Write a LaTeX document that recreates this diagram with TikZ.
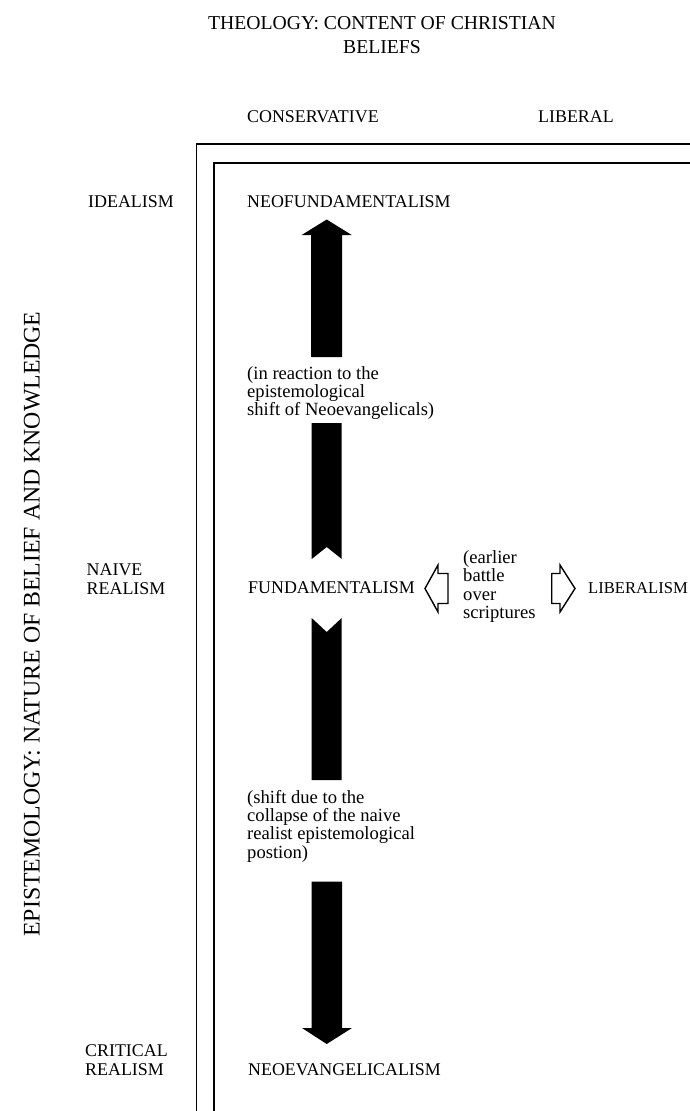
\documentclass[tikz,border=0pt]{standalone}
\usepackage{fontspec}
\setmainfont{Liberation Serif}
\begin{document}
\begin{tikzpicture}[x=1pt,y=-1pt,
  framel/.style={line width=1.5pt, line cap=butt, line join=miter},
  solidarrow/.style={fill=black, draw=none},
  hollowarrow/.style={draw=black, line width=1.4pt, fill=white, line join=miter},
  lab/.style={font=\fontsize{17.9}{18.5}\selectfont, inner sep=0pt, anchor=west, align=left},
  note/.style={font=\fontsize{18.6}{18.3}\selectfont, inner sep=0pt, anchor=west, align=left},
  ttl/.style={font=\fontsize{19.7}{24}\selectfont, inner sep=0pt, align=center},
  axis/.style={font=\fontsize{23.8}{26}\selectfont, inner sep=0pt, rotate=90}]
\useasboundingbox (0,0) rectangle (690,1111);

% titles
\node[ttl] (title) at (382,35) {THEOLOGY: CONTENT OF CHRISTIAN\\BELIEFS};
\node[lab] (cons) at (247,117) {CONSERVATIVE};
\node[lab] (lib) at (538,117) {LIBERAL};
\node[axis] (epi) at (32,624) {EPISTEMOLOGY: NATURE OF BELIEF AND KNOWLEDGE};

% row labels
\node[lab] (ideal) at (88,202) {IDEALISM};
\node[lab] (naive) at (86.5,579) {NAIVE\\REALISM};
\node[lab] (crit) at (85,1060) {CRITICAL\\REALISM};

% frame
\draw[framel] (196.7,1111) -- (196.7,144) -- (690,144);
\draw[framel] (214,1111) -- (214,163) -- (690,163);

% positions
\node[lab] (neofund) at (247,202) {NEOFUNDAMENTALISM};
\node[lab] (fund) at (248,588) {FUNDAMENTALISM};
\node[lab] (neoev) at (248,1070) {NEOEVANGELICALISM};
\node[lab, font=\fontsize{16.6}{18}\selectfont] (liberalism) at (588,588) {LIBERALISM};

% notes
\node[note] (react) at (247,393) {(in reaction to the\\epistemological\\shift of Neoevangelicals)};
\node[note] (battle) at (463,586.5) {(earlier\\battle\\over\\scriptures};
\node[note] (shift) at (247,826) {(shift due to the\\collapse of the naive\\realist epistemological\\postion)};

% solid vertical arrows
\fill[solidarrow] (311,357) -- (311,235) -- (301.7,235) -- (326.7,219.5) -- (351.7,235) -- (342,235) -- (342,357) -- cycle;
\fill[solidarrow] (311.7,423) -- (341.7,423) -- (341.7,559) -- (326.7,547) -- (311.7,559) -- cycle;
\fill[solidarrow] (311.7,618) -- (326.7,632) -- (341.7,618) -- (341.7,780) -- (311.7,780) -- cycle;
\fill[solidarrow] (311.7,881.7) -- (342,881.7) -- (342,1028) -- (352,1028) -- (326.7,1044) -- (302,1028) -- (311.7,1028) -- cycle;

% hollow horizontal arrows
\draw[hollowarrow] (425,588.5) -- (438,565) -- (438,573.5) -- (448,573.5) -- (448,603.5) -- (438,603.5) -- (438,612) -- cycle;
\draw[hollowarrow] (575,588.5) -- (560,565) -- (560,573.5) -- (551.7,573.5) -- (551.7,603.5) -- (560,603.5) -- (560,612) -- cycle;
\end{tikzpicture}
\end{document}
